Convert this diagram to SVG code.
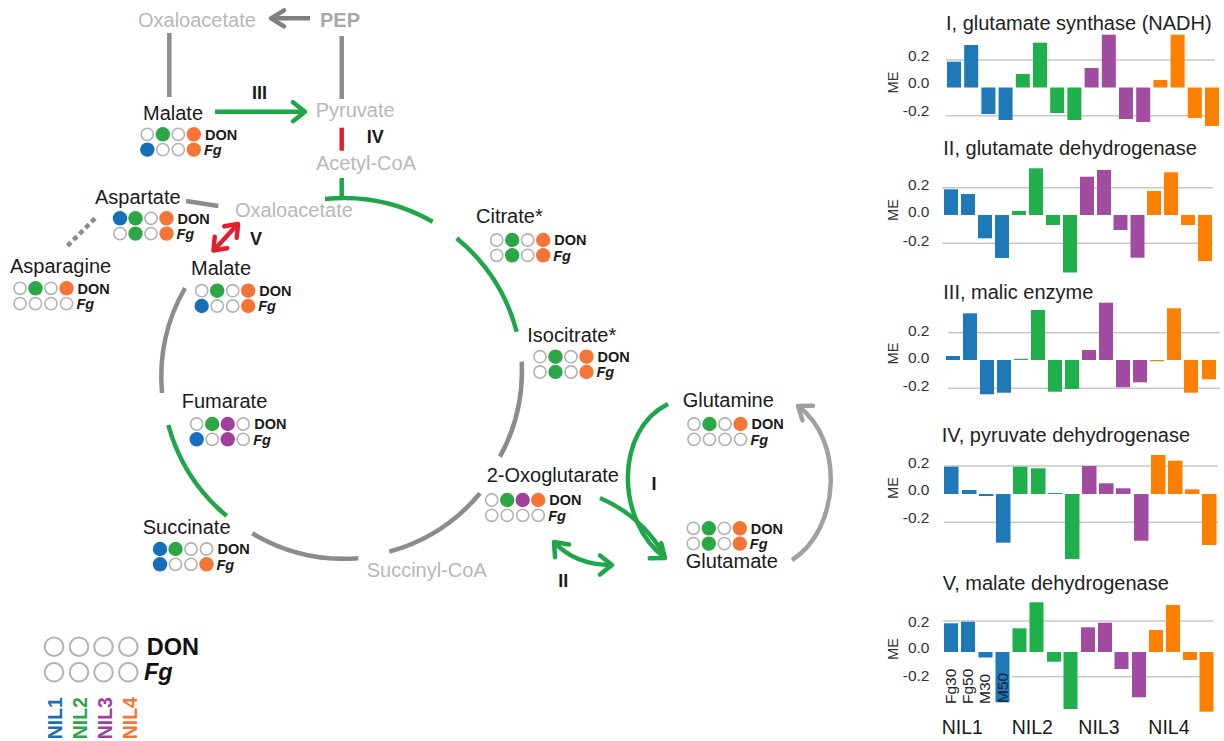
<svg xmlns="http://www.w3.org/2000/svg" xmlns:xlink="http://www.w3.org/1999/xlink" width="1224" height="741" viewBox="0 0 1224 741">
<style>
text{font-family:"Liberation Sans",Arial,sans-serif}
.nm{font-size:20px;fill:#1a1a1a}
.gl{font-size:20px;fill:#b8b8b8}
.don{font-size:14.5px;font-weight:bold;fill:#1a1a1a}
.fg{font-size:14.5px;font-weight:bold;font-style:italic;fill:#1a1a1a}
.rn{font-size:18px;font-weight:bold;fill:#1a1a1a}
.e{fill:#fff;stroke:#b3b3b3;stroke-width:1.6}
.cb{fill:#1670b9}.cg{fill:#2ca646}.cp{fill:#a0409e}.co{fill:#f47536}
.gr{fill:none;stroke:#8c8c8c;stroke-width:4.5}
.gn{fill:none;stroke:#1fa64a;stroke-width:4.5}
.rd{fill:none;stroke:#e0202e;stroke-width:4.5}
.grid{stroke:#c8c8c8;stroke-width:1.5}
.tk{font-size:15.5px;fill:#333;text-anchor:end}
.me{font-size:14.5px;fill:#333;text-anchor:middle}
.tt{font-size:20px;fill:#222}
.bB{fill:#1f78b8}.bG{fill:#1fb04b}.bP{fill:#a14ca1}.bO{fill:#ff8000}
.nil{font-size:19.5px;fill:#1a1a1a}
.bl{font-size:15.5px;fill:#222}
</style>
<defs>
<circle id="E" r="6.1" class="e"/>
<circle id="B" r="7.2" class="cb"/>
<circle id="G" r="7.2" class="cg"/>
<circle id="P" r="7.2" class="cp"/>
<circle id="O" r="7.2" class="co"/>
<marker id="mg" viewBox="-17 -14 22 28" markerWidth="22" markerHeight="28" refX="0" refY="0" orient="auto-start-reverse" markerUnits="userSpaceOnUse"><path d="M-12,-9.5 L0,0 L-12,9.5" fill="none" stroke="#1fa64a" stroke-width="4.5" stroke-linecap="round" stroke-linejoin="round"/></marker>
<marker id="mr" viewBox="-17 -14 22 28" markerWidth="22" markerHeight="28" refX="0" refY="0" orient="auto-start-reverse" markerUnits="userSpaceOnUse"><path d="M-11,-8.5 L0,0 L-11,8.5" fill="none" stroke="#e0202e" stroke-width="4.5" stroke-linecap="round" stroke-linejoin="round"/></marker>
<marker id="my" viewBox="-17 -14 22 28" markerWidth="22" markerHeight="28" refX="0" refY="0" orient="auto-start-reverse" markerUnits="userSpaceOnUse"><path d="M-13,-8 L0,0 L-13,8" fill="none" stroke="#808080" stroke-width="4.5" stroke-linecap="round" stroke-linejoin="round"/></marker>
<marker id="ma" viewBox="-17 -14 22 28" markerWidth="22" markerHeight="28" refX="0" refY="0" orient="auto-start-reverse" markerUnits="userSpaceOnUse"><path d="M-12,-9 L0,0 L-12,9" fill="none" stroke="#a0a0a0" stroke-width="4.5" stroke-linecap="round" stroke-linejoin="round"/></marker>
</defs>
<rect width="1224" height="741" fill="#fff"/>

<g id="connectors">
<path d="M310,18.3 L271,18.3" style="fill:none;stroke:#808080;stroke-width:4.5" marker-end="url(#my)"/>
<line x1="169.3" y1="33" x2="169.3" y2="97" class="gr"/>
<line x1="341.7" y1="36" x2="341.7" y2="99" class="gr"/>
<path d="M215,111.7 L305,111.7" class="gn" marker-end="url(#mg)"/>
<line x1="341.7" y1="127.7" x2="341.7" y2="150.7" class="rd"/>
<line x1="341.7" y1="178" x2="341.7" y2="199" class="gn"/>
<line x1="186" y1="201" x2="218.3" y2="206" class="gr"/>
<line x1="95" y1="218.3" x2="66.7" y2="246.7" class="gr" stroke-dasharray="5,3.5"/>
<path d="M238,224 L213.5,250.5" class="rd" marker-start="url(#mr)" marker-end="url(#mr)"/>
<path d="M325,199 A180,180 0 0 1 432.7,221.7" class="gn"/>
<path d="M456.7,238.3 A180,180 0 0 1 516.7,331.7" class="gn"/>
<path d="M521.7,361.7 A180,180 0 0 1 500,456.7" class="gr"/>
<path d="M480,493.3 A180,180 0 0 1 389.3,551.7" class="gr"/>
<path d="M358.3,558.3 A180,180 0 0 1 252.3,533.3" class="gr"/>
<path d="M226.7,516 A180,180 0 0 1 168.3,425" class="gn"/>
<path d="M162,393 A180,180 0 0 1 185,288" class="gr"/>
<path d="M668,404 C615,430 615,520 665,558" class="gn" marker-end="url(#mg)"/>
<path d="M600,498 Q640,515 663,553" class="gn"/>
<path d="M554,542 Q575,565 612,565" class="gn" marker-start="url(#mg)" marker-end="url(#mg)"/>
<path d="M792,560 C840,530 845,440 798,406" style="fill:none;stroke:#a0a0a0;stroke-width:4.5" marker-end="url(#ma)"/>
</g>

<g id="labels-gray">
<text x="138" y="27" class="gl">Oxaloacetate</text>
<text x="320" y="27" class="gl" style="font-weight:bold;fill:#a8a8a8">PEP</text>
<text x="315.7" y="117" class="gl">Pyruvate</text>
<text x="316" y="170" class="gl">Acetyl-CoA</text>
<text x="235" y="216.7" class="gl">Oxaloacetate</text>
<text x="366.7" y="576.7" class="gl">Succinyl-CoA</text>
</g>

<g id="enzymes">
<text x="252" y="99" class="rn">III</text>
<text x="366.7" y="143.3" class="rn">IV</text>
<text x="250" y="245" class="rn">V</text>
<text x="651.5" y="490" class="rn">I</text>
<text x="558.3" y="586.7" class="rn">II</text>
</g>

<g id="malate-top">
<text x="143" y="119.5" class="nm">Malate</text>
<use href="#E" x="147.3" y="134.3"/><use href="#G" x="162.8" y="134.3"/><use href="#E" x="178.3" y="134.3"/><use href="#O" x="193.8" y="134.3"/>
<use href="#B" x="147.3" y="149.6"/><use href="#E" x="162.8" y="149.6"/><use href="#E" x="178.3" y="149.6"/><use href="#O" x="193.8" y="149.6"/>
<text x="205" y="139.5" class="don">DON</text><text x="204" y="154.8" class="fg">Fg</text>
</g>

<g id="aspartate">
<text x="95" y="204" class="nm">Aspartate</text>
<use href="#B" x="120" y="218.3"/><use href="#G" x="135.5" y="218.3"/><use href="#E" x="151" y="218.3"/><use href="#O" x="166.5" y="218.3"/>
<use href="#E" x="120" y="233.6"/><use href="#G" x="135.5" y="233.6"/><use href="#E" x="151" y="233.6"/><use href="#O" x="166.5" y="233.6"/>
<text x="177.5" y="223.5" class="don">DON</text><text x="176.5" y="238.8" class="fg">Fg</text>
</g>

<g id="asparagine">
<text x="10" y="272.7" class="nm">Asparagine</text>
<use href="#E" x="20" y="288.3"/><use href="#G" x="35.5" y="288.3"/><use href="#E" x="51" y="288.3"/><use href="#O" x="66.5" y="288.3"/>
<use href="#E" x="20" y="303.6"/><use href="#E" x="35.5" y="303.6"/><use href="#E" x="51" y="303.6"/><use href="#E" x="66.5" y="303.6"/>
<text x="77.5" y="293.5" class="don">DON</text><text x="76.5" y="308.8" class="fg">Fg</text>
</g>

<g id="malate-inner">
<text x="191" y="275" class="nm">Malate</text>
<use href="#E" x="201.7" y="290.7"/><use href="#G" x="217.2" y="290.7"/><use href="#E" x="232.7" y="290.7"/><use href="#O" x="248.2" y="290.7"/>
<use href="#B" x="201.7" y="306"/><use href="#E" x="217.2" y="306"/><use href="#E" x="232.7" y="306"/><use href="#O" x="248.2" y="306"/>
<text x="259.2" y="295.9" class="don">DON</text><text x="258.2" y="311.2" class="fg">Fg</text>
</g>

<g id="fumarate">
<text x="181.7" y="408.3" class="nm">Fumarate</text>
<use href="#E" x="196.7" y="424"/><use href="#G" x="212.2" y="424"/><use href="#P" x="227.7" y="424"/><use href="#E" x="243.2" y="424"/>
<use href="#B" x="196.7" y="439.3"/><use href="#E" x="212.2" y="439.3"/><use href="#P" x="227.7" y="439.3"/><use href="#E" x="243.2" y="439.3"/>
<text x="254.2" y="429.2" class="don">DON</text><text x="253.2" y="444.5" class="fg">Fg</text>
</g>

<g id="succinate">
<text x="142.7" y="534" class="nm">Succinate</text>
<use href="#B" x="160" y="549"/><use href="#G" x="175.5" y="549"/><use href="#E" x="191" y="549"/><use href="#E" x="206.5" y="549"/>
<use href="#B" x="160" y="564.3"/><use href="#E" x="175.5" y="564.3"/><use href="#E" x="191" y="564.3"/><use href="#O" x="206.5" y="564.3"/>
<text x="217.5" y="554.2" class="don">DON</text><text x="216.5" y="569.5" class="fg">Fg</text>
</g>

<g id="citrate">
<text x="476" y="223.3" class="nm">Citrate*</text>
<use href="#E" x="496.7" y="240"/><use href="#G" x="512.2" y="240"/><use href="#E" x="527.7" y="240"/><use href="#O" x="543.2" y="240"/>
<use href="#E" x="496.7" y="255.3"/><use href="#G" x="512.2" y="255.3"/><use href="#E" x="527.7" y="255.3"/><use href="#O" x="543.2" y="255.3"/>
<text x="554.2" y="245.2" class="don">DON</text><text x="553.2" y="260.5" class="fg">Fg</text>
</g>

<g id="isocitrate">
<text x="527.3" y="341.7" class="nm">Isocitrate*</text>
<use href="#E" x="540" y="356.7"/><use href="#G" x="555.5" y="356.7"/><use href="#E" x="571" y="356.7"/><use href="#O" x="586.5" y="356.7"/>
<use href="#E" x="540" y="372"/><use href="#G" x="555.5" y="372"/><use href="#E" x="571" y="372"/><use href="#O" x="586.5" y="372"/>
<text x="597.5" y="361.9" class="don">DON</text><text x="596.5" y="377.2" class="fg">Fg</text>
</g>

<g id="oxoglutarate">
<text x="486.7" y="481.7" class="nm">2-Oxoglutarate</text>
<use href="#E" x="491.7" y="500"/><use href="#G" x="507.2" y="500"/><use href="#P" x="522.7" y="500"/><use href="#O" x="538.2" y="500"/>
<use href="#E" x="491.7" y="515.3"/><use href="#E" x="507.2" y="515.3"/><use href="#E" x="522.7" y="515.3"/><use href="#E" x="538.2" y="515.3"/>
<text x="549.2" y="505.2" class="don">DON</text><text x="548.2" y="520.5" class="fg">Fg</text>
</g>

<g id="glutamine">
<text x="682.7" y="406.7" class="nm">Glutamine</text>
<use href="#E" x="694" y="424"/><use href="#G" x="709.5" y="424"/><use href="#E" x="725" y="424"/><use href="#O" x="740.5" y="424"/>
<use href="#E" x="694" y="439.3"/><use href="#E" x="709.5" y="439.3"/><use href="#E" x="725" y="439.3"/><use href="#E" x="740.5" y="439.3"/>
<text x="751.5" y="429.2" class="don">DON</text><text x="750.5" y="444.5" class="fg">Fg</text>
</g>

<g id="glutamate">
<use href="#E" x="693.3" y="528.3"/><use href="#G" x="708.8" y="528.3"/><use href="#E" x="724.3" y="528.3"/><use href="#O" x="739.8" y="528.3"/>
<use href="#E" x="693.3" y="543.6"/><use href="#G" x="708.8" y="543.6"/><use href="#E" x="724.3" y="543.6"/><use href="#O" x="739.8" y="543.6"/>
<text x="750.8" y="533.5" class="don">DON</text><text x="749.8" y="548.8" class="fg">Fg</text>
<text x="685.7" y="568.3" class="nm">Glutamate</text>
</g>

<g id="legend">
<g style="fill:#fff;stroke:#b3b3b3;stroke-width:2">
<circle cx="54" cy="646.7" r="9.3"/><circle cx="79" cy="646.7" r="9.3"/><circle cx="103.5" cy="646.7" r="9.3"/><circle cx="128.3" cy="646.7" r="9.3"/>
<circle cx="54" cy="672.3" r="9.3"/><circle cx="79" cy="672.3" r="9.3"/><circle cx="103.5" cy="672.3" r="9.3"/><circle cx="128.3" cy="672.3" r="9.3"/>
</g>
<text x="146.7" y="655" style="font-size:23.5px;font-weight:bold;fill:#111">DON</text>
<text x="144" y="680" style="font-size:23.5px;font-weight:bold;font-style:italic;fill:#111">Fg</text>
<g style="font-size:19.5px;font-weight:bold">
<text transform="translate(61.7,739.3) rotate(-90)" fill="#1670b9">NIL1</text>
<text transform="translate(86.7,739.3) rotate(-90)" fill="#2ca646">NIL2</text>
<text transform="translate(111.7,739.3) rotate(-90)" fill="#a0409e">NIL3</text>
<text transform="translate(136.7,739.3) rotate(-90)" fill="#f47536">NIL4</text>
</g>
</g>

<g id="chart-I">
<text x="946" y="29.5" class="tt">I, glutamate synthase (NADH)</text>
<line x1="946" y1="60" x2="1215" y2="60" class="grid"/><line x1="946" y1="115.7" x2="1215" y2="115.7" class="grid"/>
<text x="929.5" y="60.7" class="tk">0.2</text><text x="929.5" y="88.3" class="tk">0.0</text><text x="929.5" y="116" class="tk">-0.2</text>
<text transform="translate(897.5,82.5) rotate(-90)" class="me">ME</text>
<rect class="bB" x="947" y="61.7" width="14" height="25.8"/><rect class="bB" x="964.2" y="45" width="14" height="42.5"/><rect class="bB" x="981.4" y="87.5" width="14" height="26.5"/><rect class="bB" x="998.6" y="87.5" width="14" height="32.5"/>
<rect class="bG" x="1015.8" y="74" width="14" height="13.5"/><rect class="bG" x="1033" y="42.7" width="14" height="44.8"/><rect class="bG" x="1050.2" y="87.5" width="14" height="25.5"/><rect class="bG" x="1067.4" y="87.5" width="14" height="32.5"/>
<rect class="bP" x="1084.6" y="68" width="14" height="19.5"/><rect class="bP" x="1101.8" y="34.7" width="14" height="52.8"/><rect class="bP" x="1119" y="87.5" width="14" height="31.5"/><rect class="bP" x="1136.2" y="87.5" width="14" height="34.5"/>
<rect class="bO" x="1153.4" y="80" width="14" height="7.5"/><rect class="bO" x="1170.6" y="34.7" width="14" height="52.8"/><rect class="bO" x="1187.8" y="87.5" width="14" height="30.5"/><rect class="bO" x="1205" y="87.5" width="14" height="38.5"/>
</g>

<g id="chart-II">
<text x="943.3" y="155" class="tt">II, glutamate dehydrogenase</text>
<line x1="942" y1="187.7" x2="1213" y2="187.7" class="grid"/><line x1="942" y1="243.3" x2="1213" y2="243.3" class="grid"/>
<text x="929.5" y="190" class="tk">0.2</text><text x="929.5" y="217" class="tk">0.0</text><text x="929.5" y="245.5" class="tk">-0.2</text>
<text transform="translate(897.5,210) rotate(-90)" class="me">ME</text>
<rect class="bB" x="944" y="189.3" width="14" height="25.7"/><rect class="bB" x="961" y="194" width="14" height="21"/><rect class="bB" x="978" y="215" width="14" height="23.3"/><rect class="bB" x="995" y="215" width="14" height="43"/>
<rect class="bG" x="1012" y="211" width="14" height="4"/><rect class="bG" x="1029" y="168.3" width="14" height="46.7"/><rect class="bG" x="1046" y="215" width="14" height="10"/><rect class="bG" x="1063" y="215" width="14" height="57.5"/>
<rect class="bP" x="1080" y="176.7" width="14" height="38.3"/><rect class="bP" x="1097" y="170" width="14" height="45"/><rect class="bP" x="1113.5" y="215" width="14" height="15"/><rect class="bP" x="1130.5" y="215" width="14" height="42.7"/>
<rect class="bO" x="1147" y="191" width="14" height="24"/><rect class="bO" x="1164" y="172.3" width="14" height="42.7"/><rect class="bO" x="1181" y="215" width="14" height="10"/><rect class="bO" x="1198" y="215" width="14" height="46"/>
</g>

<g id="chart-III">
<text x="943.3" y="299.3" class="tt">III, malic enzyme</text>
<line x1="948" y1="332.7" x2="1220" y2="332.7" class="grid"/><line x1="948" y1="388.3" x2="1220" y2="388.3" class="grid"/>
<text x="929.5" y="336" class="tk">0.2</text><text x="929.5" y="363" class="tk">0.0</text><text x="929.5" y="391" class="tk">-0.2</text>
<text transform="translate(897.5,353.5) rotate(-90)" class="me">ME</text>
<rect class="bB" x="946" y="356" width="14" height="4"/><rect class="bB" x="963" y="313.3" width="14" height="46.7"/><rect class="bB" x="980" y="360" width="14" height="34.3"/><rect class="bB" x="997" y="360" width="14" height="32.7"/>
<rect class="bG" x="1014" y="358.8" width="14" height="1.2"/><rect class="bG" x="1031" y="310" width="14" height="50"/><rect class="bG" x="1048" y="360" width="14" height="31.7"/><rect class="bG" x="1065" y="360" width="14" height="29"/>
<rect class="bP" x="1082" y="350" width="14" height="10"/><rect class="bP" x="1099" y="302.7" width="14" height="57.3"/><rect class="bP" x="1116" y="360" width="14" height="27.3"/><rect class="bP" x="1133" y="360" width="14" height="22.3"/>
<rect class="bO" x="1150" y="360" width="14" height="1.2"/><rect class="bO" x="1167" y="308.3" width="14" height="51.7"/><rect class="bO" x="1184" y="360" width="14" height="32.7"/><rect class="bO" x="1202" y="360" width="14" height="19.3"/>
</g>

<g id="chart-IV">
<text x="941.7" y="441.7" class="tt">IV, pyruvate dehydrogenase</text>
<line x1="944" y1="466" x2="1218" y2="466" class="grid"/><line x1="944" y1="522.3" x2="1218" y2="522.3" class="grid"/>
<text x="929.5" y="468" class="tk">0.2</text><text x="929.5" y="495" class="tk">0.0</text><text x="929.5" y="523" class="tk">-0.2</text>
<text transform="translate(897.5,488) rotate(-90)" class="me">ME</text>
<rect class="bB" x="944" y="466.7" width="14.5" height="27.3"/><rect class="bB" x="962" y="490" width="14.5" height="4"/><rect class="bB" x="979" y="494" width="14.5" height="2"/><rect class="bB" x="996" y="494" width="14.5" height="48.7"/>
<rect class="bG" x="1013" y="466.7" width="14.5" height="27.3"/><rect class="bG" x="1031" y="468.3" width="14.5" height="25.7"/><rect class="bG" x="1048" y="493" width="14.5" height="1"/><rect class="bG" x="1065" y="494" width="14.5" height="65"/>
<rect class="bP" x="1082" y="466" width="14.5" height="28"/><rect class="bP" x="1099" y="483.3" width="14.5" height="10.7"/><rect class="bP" x="1116" y="488.3" width="14.5" height="5.7"/><rect class="bP" x="1134" y="494" width="14.5" height="46.7"/>
<rect class="bO" x="1151" y="455" width="14.5" height="39"/><rect class="bO" x="1168" y="460.7" width="14.5" height="33.3"/><rect class="bO" x="1185" y="489.3" width="14.5" height="4.7"/><rect class="bO" x="1202" y="494" width="14.5" height="51"/>
</g>

<g id="chart-V">
<text x="942.7" y="590" class="tt">V, malate dehydrogenase</text>
<line x1="943" y1="621" x2="1213" y2="621" class="grid"/><line x1="1012" y1="676.7" x2="1213" y2="676.7" class="grid"/>
<text x="929.5" y="626.5" class="tk">0.2</text><text x="929.5" y="653.3" class="tk">0.0</text><text x="929.5" y="680.5" class="tk">-0.2</text>
<text transform="translate(897.5,649) rotate(-90)" class="me">ME</text>
<rect class="bB" x="944" y="623.3" width="14" height="28.7"/><rect class="bB" x="961" y="621.7" width="14" height="30.3"/><rect class="bB" x="978.5" y="652" width="14" height="5.5"/><rect class="bB" x="995.5" y="652" width="14" height="50.3"/>
<rect class="bG" x="1012.5" y="628.3" width="14" height="23.7"/><rect class="bG" x="1029.5" y="602.3" width="14" height="49.7"/><rect class="bG" x="1047" y="652" width="14" height="9.7"/><rect class="bG" x="1063.5" y="652" width="14" height="57"/>
<rect class="bP" x="1081" y="627.3" width="14" height="24.7"/><rect class="bP" x="1098" y="622.7" width="14" height="29.3"/><rect class="bP" x="1114.5" y="652" width="14" height="17"/><rect class="bP" x="1132" y="652" width="14" height="45.3"/>
<rect class="bO" x="1149" y="630" width="14" height="22"/><rect class="bO" x="1166" y="605" width="14" height="47"/><rect class="bO" x="1183" y="652" width="14" height="8"/><rect class="bO" x="1199.5" y="652" width="14" height="59.7"/>
<text transform="translate(955.5,704) rotate(-90)" class="bl">Fg30</text>
<text transform="translate(973,704) rotate(-90)" class="bl">Fg50</text>
<text transform="translate(990.3,704) rotate(-90)" class="bl">M30</text>
<text transform="translate(1007.5,703) rotate(-90)" class="bl" style="fill:#142238">M50</text>
<text x="941.7" y="733.5" class="nil">NIL1</text>
<text x="1011.7" y="733.5" class="nil">NIL2</text>
<text x="1078.3" y="733.5" class="nil">NIL3</text>
<text x="1148.3" y="733.5" class="nil">NIL4</text>
</g>
</svg>
